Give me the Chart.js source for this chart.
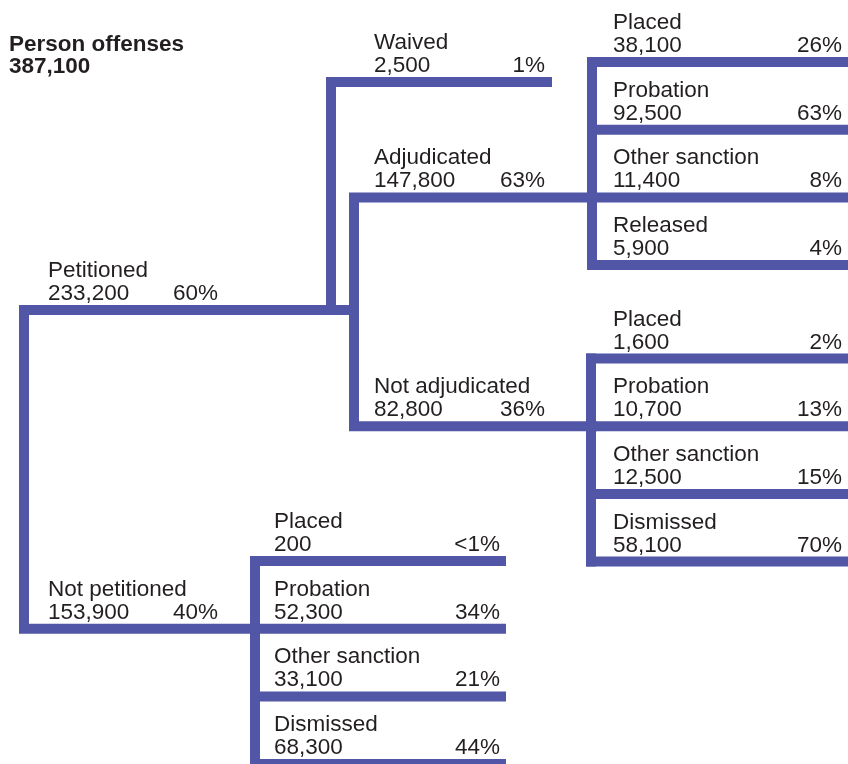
<!DOCTYPE html>
<html>
<head>
<meta charset="utf-8">
<script src="https://cdn.jsdelivr.net/npm/chart.js@4.4.1/dist/chart.umd.min.js"></script>
<style>
  html, body { margin: 0; padding: 0; background: #fff; }
  #wrap { width: 848px; height: 764px; }
</style>
</head>
<body>
<div id="wrap"><canvas id="treeChart"></canvas></div>
<script>
    // Дані
    const rootLabel = 'Person offenses';
    const rootCount = 387100;

    const stageLabels = ['Petitioned', 'Not petitioned'];
    const stageCounts = [233200, 153900];
    const stagePct = ['60%', '40%'];

    const petitionedLabels = ['Waived', 'Adjudicated', 'Not adjudicated'];
    const petitionedCounts = [2500, 147800, 82800];
    const petitionedPct = ['1%', '63%', '36%'];

    const adjudicatedLabels = ['Placed', 'Probation', 'Other sanction', 'Released'];
    const adjudicatedCounts = [38100, 92500, 11400, 5900];
    const adjudicatedPct = ['26%', '63%', '8%', '4%'];

    const notAdjudicatedLabels = ['Placed', 'Probation', 'Other sanction', 'Dismissed'];
    const notAdjudicatedCounts = [1600, 10700, 12500, 58100];
    const notAdjudicatedPct = ['2%', '13%', '15%', '70%'];

    const notPetitionedLabels = ['Placed', 'Probation', 'Other sanction', 'Dismissed'];
    const notPetitionedCounts = [200, 52300, 33100, 68300];
    const notPetitionedPct = ['<1%', '34%', '21%', '44%'];

    // Розкладка (пікселі)
    const W = 848, H = 764;
    const lineColor = '#5156a6';
    const textColor = '#231f20';
    const lineW = 10;

    const colStage = 24, colWaived = 331, colCourt = 354, colOutcome = 592, colDiversion = 255;
    const waivedEnd = 547, diversionEnd = 501, rightEnd = W;
    const yPetitioned = 310, yWaived = 82;
    const rowStep = 67.7;
    const groups = {
        adj: { top: 62, join: 2 },
        notAdj: { top: 358.5, join: 1 },
        notPet: { top: 561, join: 1 }
    };
    const rowY = (g, i) => groups[g].top + i * rowStep;
    const yAdjudicated = rowY('adj', groups.adj.join);
    const yNotAdjudicated = rowY('notAdj', groups.notAdj.join);
    const yNotPetitioned = rowY('notPet', groups.notPet.join);

    // Лінії дерева
    const paths = [];
    paths.push([[colCourt, yPetitioned], [colStage, yPetitioned], [colStage, yNotPetitioned], [colDiversion, yNotPetitioned]]);
    paths.push([[colWaived, yPetitioned], [colWaived, yWaived], [waivedEnd, yWaived]]);
    paths.push([[colOutcome, yAdjudicated], [colCourt, yAdjudicated], [colCourt, yNotAdjudicated], [colOutcome, yNotAdjudicated]]);

    function branch(g, n, x0, x1) {
        paths.push([[x0, rowY(g, 0)], [x0, rowY(g, n - 1)]]);
        for (let i = 0; i < n; i++) paths.push([[x0, rowY(g, i)], [x1, rowY(g, i)]]);
    }
    branch('adj', adjudicatedLabels.length, colOutcome, rightEnd);
    branch('notAdj', notAdjudicatedLabels.length, colOutcome - 1, rightEnd);
    branch('notPet', notPetitionedLabels.length, colDiversion, diversionEnd);

    const datasets = paths.map(p => ({
        data: p.map(([x, y]) => ({ x, y })),
        showLine: true,
        borderColor: lineColor,
        borderWidth: lineW,
        borderCapStyle: 'square',
        borderJoinStyle: 'miter',
        pointRadius: 0,
        fill: false
    }));

    // Підписи
    const fmt = n => n.toLocaleString('en-US');
    const labels = [];
    function addNode(name, count, pct, x, y, pctRight) {
        labels.push({ text: name, x, y: y - 33 });
        labels.push({ text: fmt(count), x, y: y - 10 });
        labels.push({ text: pct, x: pctRight, y: y - 10, align: 'right' });
    }
    addNode(stageLabels[0], stageCounts[0], stagePct[0], 48, yPetitioned, 218);
    addNode(stageLabels[1], stageCounts[1], stagePct[1], 48, yNotPetitioned, 218);
    addNode(petitionedLabels[0], petitionedCounts[0], petitionedPct[0], 374, yWaived, 545);
    addNode(petitionedLabels[1], petitionedCounts[1], petitionedPct[1], 374, yAdjudicated, 545);
    addNode(petitionedLabels[2], petitionedCounts[2], petitionedPct[2], 374, yNotAdjudicated, 545);
    adjudicatedLabels.forEach((l, i) => addNode(l, adjudicatedCounts[i], adjudicatedPct[i], 613, rowY('adj', i), 842));
    notAdjudicatedLabels.forEach((l, i) => addNode(l, notAdjudicatedCounts[i], notAdjudicatedPct[i], 613, rowY('notAdj', i), 842));
    notPetitionedLabels.forEach((l, i) => addNode(l, notPetitionedCounts[i], notPetitionedPct[i], 274, rowY('notPet', i), 500));

    const textPlugin = {
        id: 'treeText',
        afterDraw(chart) {
            const { ctx, scales } = chart;
            ctx.save();
            ctx.fillStyle = textColor;
            ctx.textBaseline = 'alphabetic';
            ctx.font = 'bold 22.5px "Liberation Sans", Arial, sans-serif';
            ctx.textAlign = 'left';
            ctx.fillText(rootLabel, scales.x.getPixelForValue(9), scales.y.getPixelForValue(51));
            ctx.fillText(fmt(rootCount), scales.x.getPixelForValue(9), scales.y.getPixelForValue(73));
            ctx.font = '22.5px "Liberation Sans", Arial, sans-serif';
            labels.forEach(t => {
                ctx.textAlign = t.align || 'left';
                ctx.fillText(t.text, scales.x.getPixelForValue(t.x), scales.y.getPixelForValue(t.y));
            });
            ctx.restore();
        }
    };

    const ctx = document.getElementById('treeChart').getContext('2d');
    new Chart(ctx, {
        type: 'scatter',
        data: { datasets },
        options: {
            responsive: true,
            maintainAspectRatio: false,
            animation: false,
            layout: { padding: 0 },
            plugins: { legend: { display: false }, tooltip: { enabled: false } },
            scales: {
                x: { type: 'linear', min: 0, max: W, display: false },
                y: { type: 'linear', min: 0, max: H, reverse: true, display: false }
            }
        },
        plugins: [textPlugin]
    });
</script>
</body>
</html>
